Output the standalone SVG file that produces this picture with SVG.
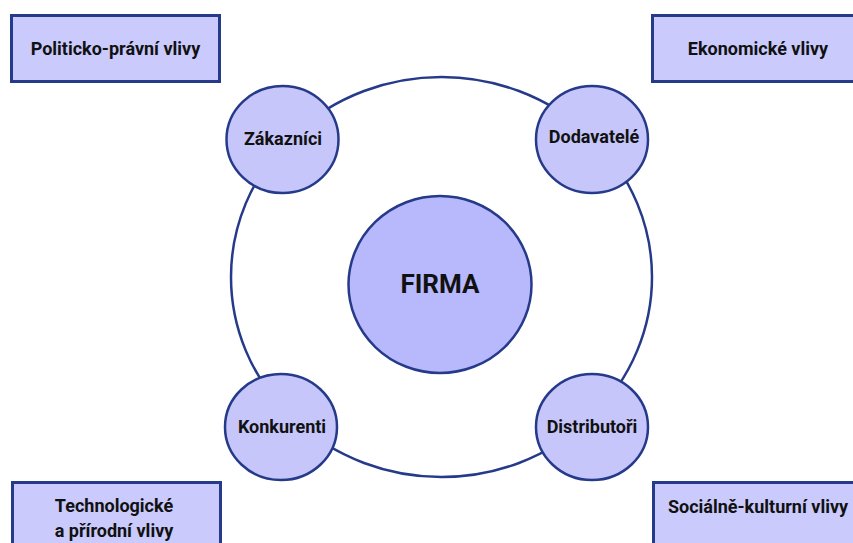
<svg xmlns="http://www.w3.org/2000/svg" width="853" height="543" viewBox="0 0 853 543">
<style>
.box{fill:#cacafc;stroke:#263a8a;stroke-width:3}
.sm{fill:#c6c6fa;stroke:#263a8a;stroke-width:2.5}
.big{fill:#b8b8fc;stroke:#263a8a;stroke-width:2.5}
.ring{fill:none;stroke:#263a8a;stroke-width:2.5}
text{font-family:Roboto,"Liberation Sans",sans-serif;font-weight:bold;fill:#111;text-anchor:middle;dominant-baseline:central}
.t{font-size:18px}
.f{font-size:26px}
</style>
<rect width="853" height="543" fill="#fff"/>
<g id="connectors">
<ellipse class="ring" cx="441.5" cy="277" rx="210.5" ry="200"/>
</g>
<g id="firma"><ellipse class="big" cx="440" cy="284.5" rx="91.5" ry="88.5"/><text class="f" x="440" y="284">FIRMA</text></g>
<g id="zakaznici"><ellipse class="sm" cx="282.5" cy="139.5" rx="56" ry="53.5"/><text class="t" x="283" y="138">Zákazníci</text></g>
<g id="dodavatele"><ellipse class="sm" cx="592" cy="139.5" rx="56" ry="53.5"/><text class="t" x="594" y="136">Dodavatelé</text></g>
<g id="konkurenti"><ellipse class="sm" cx="281" cy="427" rx="56" ry="53"/><text class="t" x="282" y="426">Konkurenti</text></g>
<g id="distributori"><ellipse class="sm" cx="592" cy="427" rx="56" ry="53"/><text class="t" x="592" y="426">Distributoři</text></g>
<g id="politicko"><rect class="box" x="11.5" y="15.5" width="208" height="66"/><text class="t" x="115.5" y="48">Politicko-právní vlivy</text></g>
<g id="ekonomicke"><rect class="box" x="652.5" y="15.5" width="212" height="66"/><text class="t" x="758" y="48">Ekonomické vlivy</text></g>
<g id="technologicke"><rect class="box" x="12.5" y="482.5" width="208" height="80"/><text class="t" x="114" y="505">Technologické</text><text class="t" x="114" y="530">a přírodní vlivy</text></g>
<g id="socialne"><rect class="box" x="653.5" y="482.5" width="212" height="80"/><text class="t" x="758" y="506">Sociálně-kulturní vlivy</text></g>
</svg>
